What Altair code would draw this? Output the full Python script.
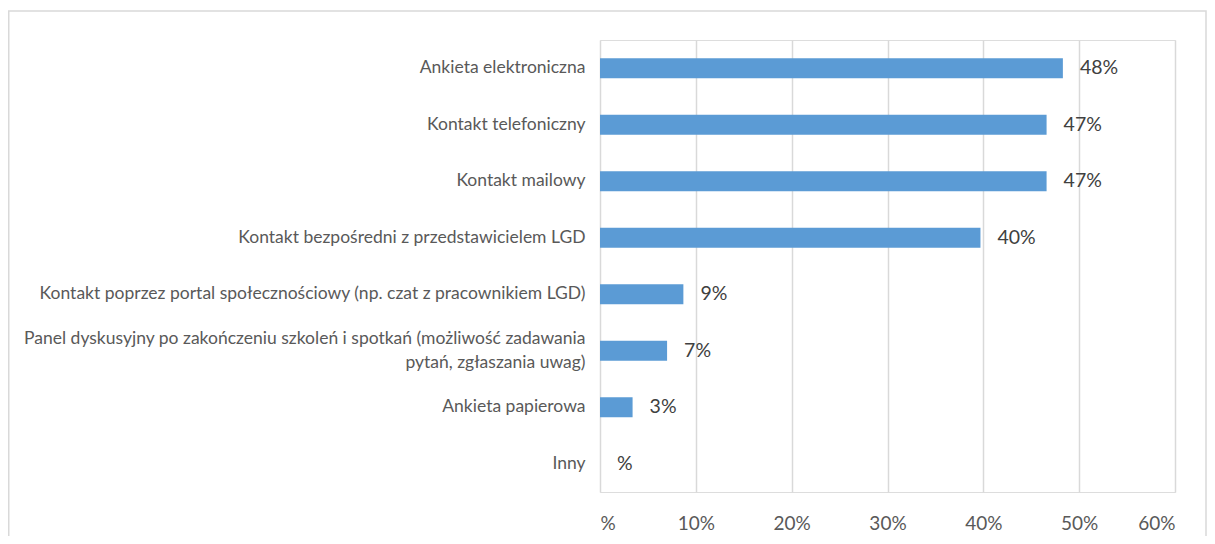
import altair as alt
import pandas as pd

categories = [
    "Ankieta elektroniczna",
    "Kontakt telefoniczny",
    "Kontakt mailowy",
    "Kontakt bezpośredni z przedstawicielem LGD",
    "Kontakt poprzez portal społecznościowy (np. czat z pracownikiem LGD)",
    "Panel dyskusyjny po zakończeniu szkoleń i spotkań (możliwość zadawania|pytań, zgłaszania uwag)",
    "Ankieta papierowa",
    "Inny",
]
values = [48.3, 46.6, 46.6, 39.7, 8.7, 7.0, 3.4, 0.0]
value_labels = ["48%", "47%", "47%", "40%", "9%", "7%", "3%", "%"]
x_ticks = [0, 10, 20, 30, 40, 50, 60]

df = pd.DataFrame({"cat": categories, "val": values, "lab": value_labels})

FONT = "Lato"
base = alt.Chart(df)

y_enc = alt.Y(
    "cat:N",
    sort=categories,
    scale=alt.Scale(paddingInner=0, paddingOuter=0),
    axis=alt.Axis(
        title=None,
        domain=False,
        ticks=False,
        grid=False,
        labelFont=FONT,
        labelFontSize=17.5,
        labelColor="#595959",
        labelPadding=15,
        labelLimit=800,
        labelLineHeight=24,
        labelOffset={"condition": {"test": "indexof(datum.value, '|') >= 0", "value": -12}, "value": 0},
        labelExpr="split(datum.label, '|')",
    ),
)

x_enc = alt.X(
    "val:Q",
    scale=alt.Scale(domain=[0, 60], nice=False),
    axis=alt.Axis(
        title=None,
        values=x_ticks,
        domain=False,
        ticks=False,
        grid=True,
        gridColor="#D9D9D9",
        gridWidth=1.5,
        labelFont=FONT,
        labelFontSize=19,
        labelColor="#595959",
        labelPadding=22,
        labelExpr="datum.value == 0 ? '%' : datum.value + '%'",
    ),
)

bars = base.mark_bar(color="#5B9BD5", size=20).encode(x=x_enc, y=y_enc)
texts = base.mark_text(
    align="left", baseline="middle", dx=17, font=FONT, fontSize=19.5, color="#404040"
).encode(x="val:Q", y=alt.Y("cat:N", sort=categories), text="lab:N")

border = alt.Chart(pd.DataFrame({"a": [0]})).mark_rect(
    filled=False, stroke="#D9D9D9", strokeWidth=1.5, clip=False
).encode(
    x=alt.value(-591.25), x2=alt.value(606), y=alt.value(-29), y2=alt.value(530)
)

chart = (
    alt.layer(border, bars, texts)
    .properties(
        width=575,
        height=452,
        autosize=alt.AutoSizeParams(type="none"),
        padding={"left": 592, "top": 32, "right": 32, "bottom": 44},
    )
    .configure_view(stroke=None)
    .configure(background="white")
)

chart.save("out.html", embed_options={"renderer": "svg", "actions": False})
